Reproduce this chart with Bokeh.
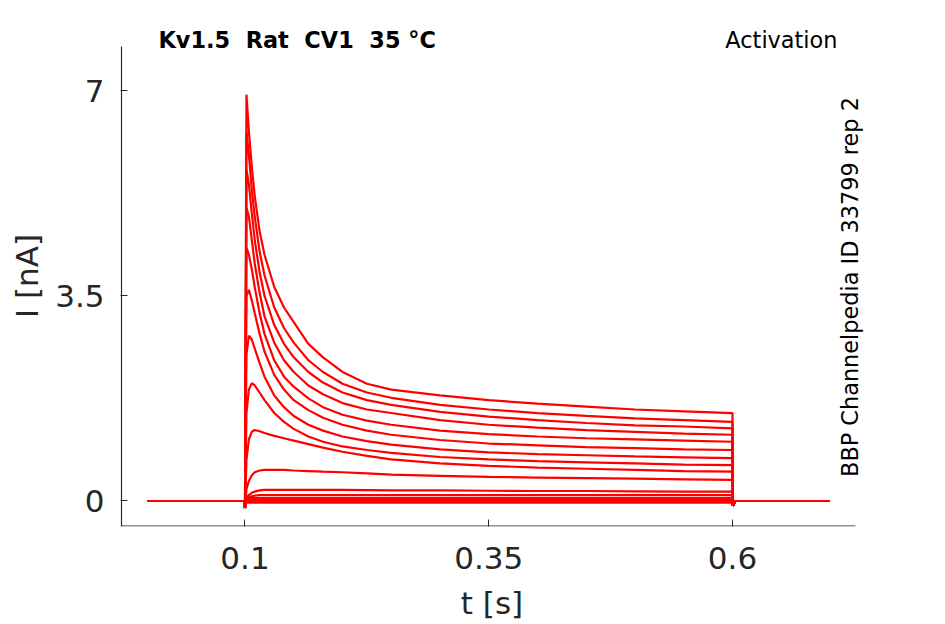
import math
from bokeh.plotting import figure
from bokeh.models import Label, Range1d, FixedTicker
from bokeh.embed import file_html
from bokeh.resources import INLINE

# ---- data ----
pre_t = [0.0, 0.0995]
pre_i = [0.0, 0.0]
onset_t = [0.1]
onset_i = [-0.12]
pulse_t = [0.1015, 0.104, 0.107, 0.11, 0.115, 0.12, 0.13, 0.14, 0.15, 0.165,
           0.18, 0.2, 0.225, 0.25, 0.3, 0.35, 0.4, 0.45, 0.5, 0.55, 0.6]
post_t = [0.6005, 0.603, 0.7]
post_i = [-0.08, 0.0, 0.0]

trace_a = [6.93, 6.3, 5.7, 5.2, 4.6, 4.2, 3.65, 3.3, 3.05, 2.68, 2.45, 2.2, 2.0, 1.9, 1.8, 1.72, 1.66, 1.61, 1.56, 1.53, 1.50]
trace_b = [6.3, 5.9, 5.3, 4.85, 4.25, 3.85, 3.3, 2.95, 2.7, 2.4, 2.2, 2.0, 1.85, 1.76, 1.64, 1.56, 1.5, 1.45, 1.41, 1.38, 1.35]
trace_c = [5.65, 5.4, 4.9, 4.45, 3.9, 3.5, 3.0, 2.68, 2.45, 2.2, 2.02, 1.85, 1.72, 1.64, 1.52, 1.44, 1.38, 1.33, 1.29, 1.27, 1.24]
trace_d = [5.0, 4.85, 4.45, 4.05, 3.55, 3.15, 2.7, 2.4, 2.2, 1.97, 1.82, 1.67, 1.56, 1.5, 1.38, 1.3, 1.25, 1.21, 1.18, 1.15, 1.13]
trace_e = [4.32, 4.2, 3.95, 3.65, 3.2, 2.85, 2.4, 2.12, 1.95, 1.75, 1.6, 1.47, 1.37, 1.3, 1.2, 1.14, 1.1, 1.07, 1.05, 1.03, 1.01]
trace_f = [3.5, 3.6, 3.42, 3.2, 2.85, 2.55, 2.15, 1.9, 1.72, 1.55, 1.42, 1.3, 1.2, 1.13, 1.04, 0.98, 0.95, 0.92, 0.9, 0.88, 0.87]
trace_g = [2.5, 2.82, 2.75, 2.6, 2.35, 2.12, 1.8, 1.6, 1.45, 1.3, 1.2, 1.1, 1.02, 0.96, 0.88, 0.83, 0.8, 0.78, 0.76, 0.745, 0.73]
trace_h = [1.5, 1.9, 2.01, 1.97, 1.85, 1.72, 1.5, 1.35, 1.23, 1.1, 1.01, 0.93, 0.87, 0.82, 0.75, 0.71, 0.68, 0.66, 0.64, 0.62, 0.61]
trace_i = [0.7, 1.05, 1.18, 1.21, 1.19, 1.16, 1.11, 1.07, 1.03, 0.97, 0.91, 0.84, 0.77, 0.71, 0.64, 0.6, 0.57, 0.55, 0.53, 0.51, 0.50]
trace_j = [0.2, 0.34, 0.44, 0.49, 0.52, 0.53, 0.53, 0.53, 0.52, 0.51, 0.5, 0.49, 0.47, 0.45, 0.43, 0.41, 0.4, 0.39, 0.38, 0.37, 0.36]
trace_k = [0.06, 0.1, 0.14, 0.16, 0.18, 0.19, 0.19, 0.19, 0.19, 0.19, 0.19, 0.19, 0.185, 0.18, 0.18, 0.175, 0.17, 0.17, 0.165, 0.16, 0.16]
trace_l = [0.03, 0.06, 0.08, 0.09, 0.1, 0.1, 0.1, 0.1, 0.1, 0.1, 0.1, 0.1, 0.1, 0.1, 0.1, 0.1, 0.1, 0.1, 0.1, 0.1, 0.1]
trace_m = [0.02, 0.04, 0.05, 0.05, 0.05, 0.05, 0.05, 0.05, 0.05, 0.05, 0.05, 0.05, 0.05, 0.05, 0.05, 0.05, 0.05, 0.05, 0.05, 0.05, 0.05]
trace_n = [0.01, 0.02, 0.02, 0.02, 0.02, 0.02, 0.02, 0.02, 0.02, 0.02, 0.02, 0.02, 0.02, 0.02, 0.02, 0.02, 0.02, 0.02, 0.02, 0.02, 0.02]
trace_o = [0.0, 0.0, 0.0, 0.0, 0.0, 0.0, 0.0, 0.0, 0.0, 0.0, 0.0, 0.0, 0.0, 0.0, 0.0, 0.0, 0.0, 0.0, 0.0, 0.0, 0.0]
trace_p = [-0.02, -0.03, -0.03, -0.03, -0.03, -0.03, -0.03, -0.03, -0.03, -0.03, -0.03, -0.03, -0.03, -0.03, -0.03, -0.03, -0.03, -0.03, -0.03, -0.03, -0.03]

traces = [trace_a, trace_b, trace_c, trace_d, trace_e, trace_f, trace_g, trace_h,
          trace_i, trace_j, trace_k, trace_l, trace_m, trace_n, trace_o, trace_p]

x_ticks = [0.1, 0.35, 0.6]
x_tick_labels = ["0.1", "0.35", "0.6"]
y_ticks = [0, 3.5, 7]
y_tick_labels = ["0", "3.5", "7"]

title_text = "Kv1.5 \u00a0Rat \u00a0CV1 \u00a035 °C"
protocol_text = "Activation"
source_text = "BBP Channelpedia ID 33799 rep 2"

# ---- layout constants ----
AX = "#262626"
FONT = "DejaVu Sans"
X0, X1 = -0.0277, 0.7344          # visible frame (extends past axes for texts)
Y0, Y1 = -0.435, 8.109
AXIS_X_END = 0.7262               # where the drawn x-axis line stops
AXIS_Y_END = 7.751                # where the drawn y-axis line stops
AXIS_X_POS = -0.0267
AXIS_Y_POS = -0.4263

p = figure(frame_width=743, frame_height=501,
           min_border_left=120, min_border_right=60,
           min_border_top=25, min_border_bottom=90,
           x_range=Range1d(X0, X1), y_range=Range1d(Y0, Y1),
           output_backend="svg", toolbar_location=None,
           background_fill_color="white", border_fill_color="white")
p.outline_line_color = None
p.grid.visible = False

for tr in traces:
    xs = pre_t + onset_t + pulse_t + post_t
    ys = pre_i + onset_i + tr + post_i
    p.line(xs, ys, line_color="#ff0000", line_width=2.2)

# axis lines of limited extent
p.segment(x0=[AXIS_X_POS, X0], y0=[Y0, AXIS_Y_POS],
          x1=[AXIS_X_POS, AXIS_X_END], y1=[AXIS_Y_END, AXIS_Y_POS],
          line_color=AX, line_width=1.2)

for ax in (p.xaxis[0], p.yaxis[0]):
    ax.axis_line_color = None
    ax.major_tick_line_color = AX
    ax.major_tick_in = 7
    ax.major_tick_out = 0
    ax.minor_tick_line_color = None
    ax.major_label_text_font = FONT
    ax.major_label_text_font_size = "31px"
    ax.major_label_text_color = AX
    ax.axis_label_text_font = FONT
    ax.axis_label_text_font_size = "31px"
    ax.axis_label_text_font_style = "normal"
    ax.axis_label_text_color = AX

p.xaxis[0].ticker = FixedTicker(ticks=x_ticks)
p.xaxis[0].major_label_overrides = dict(zip(x_ticks, x_tick_labels))
p.xaxis[0].axis_label = "t [s]"
p.xaxis[0].major_label_standoff = 20
p.xaxis[0].axis_label_standoff = 13

p.yaxis[0].ticker = FixedTicker(ticks=y_ticks)
p.yaxis[0].major_label_overrides = dict(zip(y_ticks, y_tick_labels))
p.yaxis[0].axis_label = "I [nA]"
p.yaxis[0].major_label_standoff = 16
p.yaxis[0].axis_label_standoff = 7

p.add_layout(Label(x=0.0113, y=7.867, text=title_text, text_font=FONT,
                   text_font_size="22.4px", text_font_style="bold",
                   text_color="black", text_baseline="alphabetic", text_align="left"))
p.add_layout(Label(x=0.7077, y=7.867, text=protocol_text, text_font=FONT,
                   text_font_size="22.4px", text_color="black",
                   text_baseline="alphabetic", text_align="right"))
p.add_layout(Label(x=0.7202, y=3.649, text=source_text, text_font=FONT,
                   text_font_size="22.4px", text_color="black", angle=math.pi / 2,
                   text_baseline="alphabetic", text_align="center"))

open("out.html", "w").write(file_html(p, INLINE))
